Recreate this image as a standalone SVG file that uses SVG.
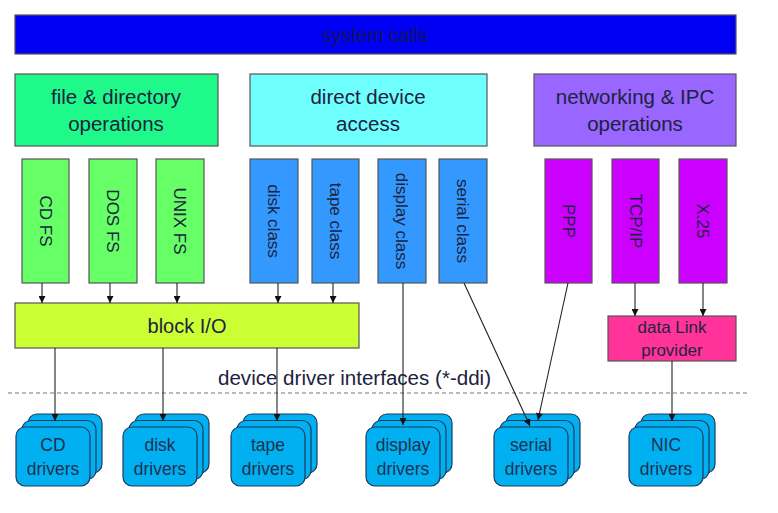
<svg xmlns="http://www.w3.org/2000/svg" xmlns:xlink="http://www.w3.org/1999/xlink" width="778" height="513" viewBox="0 0 778 513">
<style>
text{font-family:"Liberation Sans","DejaVu Sans",sans-serif;fill:#1c2340;}
.big{font-size:20.5px;text-anchor:middle;}
.vt{font-size:17px;text-anchor:middle;}
.drv{font-size:17.5px;text-anchor:middle;fill:#1f3050;}
.box{stroke:#555;stroke-width:1.2;}
.con{stroke:#222;stroke-width:1.1;fill:none;}
.arr{marker-end:url(#ah);}
</style>
<defs>
<marker id="ah" viewBox="0 0 10 10" refX="10" refY="5" markerWidth="7" markerHeight="7" markerUnits="userSpaceOnUse" orient="auto">
<path d="M0,0 L10,5 L0,10 z" fill="#111"/>
</marker>
<g id="stack">
<rect x="12" y="-13" width="74" height="59" rx="9" fill="#00b0f0" stroke="#1f3a5f" stroke-width="1.2"/>
<rect x="6" y="-6.5" width="74" height="59" rx="9" fill="#00b0f0" stroke="#1f3a5f" stroke-width="1.2"/>
<rect x="0" y="0" width="74" height="59" rx="9" fill="#00b0f0" stroke="#1f3a5f" stroke-width="1.2"/>
</g>
</defs>
<rect width="778" height="513" fill="#fff"/>

<g id="system-calls">
<rect class="box" x="15" y="15" width="721" height="39" fill="#0000f5"/>
<text class="big" x="375" y="42" style="font-size:19.5px;fill:#14145a">system calls</text>
</g>

<g id="file-dir-ops">
<rect class="box" x="15" y="74" width="203" height="72" fill="#1ef98a"/>
<text class="big" x="116" y="104">file &amp; directory</text>
<text class="big" x="116" y="131">operations</text>
</g>
<g id="direct-device-access">
<rect class="box" x="250" y="74" width="237" height="72" fill="#6ffffd"/>
<text class="big" x="368" y="104">direct device</text>
<text class="big" x="368" y="131">access</text>
</g>
<g id="networking-ipc">
<rect class="box" x="534" y="74" width="202" height="72" fill="#9966ff"/>
<text class="big" x="635" y="104">networking &amp; IPC</text>
<text class="big" x="635" y="131">operations</text>
</g>

<g id="cd-fs"><rect class="box" x="22" y="159" width="47" height="124" fill="#66ff66"/><text class="vt" transform="translate(45.5,221) rotate(90)" dy="0.35em">CD FS</text></g>
<g id="dos-fs"><rect class="box" x="89" y="159" width="48" height="124" fill="#66ff66"/><text class="vt" transform="translate(113,221) rotate(90)" dy="0.35em">DOS FS</text></g>
<g id="unix-fs"><rect class="box" x="156" y="159" width="48" height="124" fill="#66ff66"/><text class="vt" transform="translate(180,221) rotate(90)" dy="0.35em">UNIX FS</text></g>
<g id="disk-class"><rect class="box" x="250" y="159" width="48" height="124" fill="#3399ff"/><text class="vt" transform="translate(274,221) rotate(90)" dy="0.35em">disk class</text></g>
<g id="tape-class"><rect class="box" x="312" y="159" width="47" height="124" fill="#3399ff"/><text class="vt" transform="translate(335.5,221) rotate(90)" dy="0.35em">tape class</text></g>
<g id="display-class"><rect class="box" x="378" y="159" width="48" height="124" fill="#3399ff"/><text class="vt" transform="translate(402,221) rotate(90)" dy="0.35em">display class</text></g>
<g id="serial-class"><rect class="box" x="439" y="159" width="48" height="124" fill="#3399ff"/><text class="vt" transform="translate(463,221) rotate(90)" dy="0.35em">serial class</text></g>
<g id="ppp"><rect class="box" x="545" y="159" width="47" height="124" fill="#cc00ff"/><text class="vt" transform="translate(568.5,221) rotate(90)" dy="0.35em">PPP</text></g>
<g id="tcp-ip"><rect class="box" x="612" y="159" width="47" height="124" fill="#cc00ff"/><text class="vt" transform="translate(635.5,221) rotate(90)" dy="0.35em">TCP/IP</text></g>
<g id="x25"><rect class="box" x="679" y="159" width="48" height="124" fill="#cc00ff"/><text class="vt" transform="translate(703,221) rotate(90)" dy="0.35em">X.25</text></g>

<g id="block-io">
<rect class="box" x="15" y="303" width="344" height="45" fill="#ccff33" stroke="#333"/>
<text class="big" x="187" y="333" style="font-size:20px">block I/O</text>
</g>
<g id="data-link-provider">
<rect class="box" x="608" y="316" width="128" height="45" fill="#ff3399" stroke="#333"/>
<text class="big" x="672" y="333" style="font-size:17px">data Link</text>
<text class="big" x="672" y="356" style="font-size:17px">provider</text>
</g>

<g id="ddi-boundary">
<line x1="8" y1="393" x2="750" y2="393" stroke="#777" stroke-width="1.2" stroke-dasharray="4,3"/>
<text x="218" y="385" font-size="20" textLength="273" lengthAdjust="spacingAndGlyphs">device driver interfaces (*-ddi)</text>
</g>

<g id="cd-drivers"><use xlink:href="#stack" x="16" y="427"/><text class="drv" x="53" y="451">CD</text><text class="drv" x="53" y="475">drivers</text></g>
<g id="disk-drivers"><use xlink:href="#stack" x="123" y="427"/><text class="drv" x="160" y="451">disk</text><text class="drv" x="160" y="475">drivers</text></g>
<g id="tape-drivers"><use xlink:href="#stack" x="231" y="427"/><text class="drv" x="268" y="451">tape</text><text class="drv" x="268" y="475">drivers</text></g>
<g id="display-drivers"><use xlink:href="#stack" x="366" y="427"/><text class="drv" x="403" y="451">display</text><text class="drv" x="403" y="475">drivers</text></g>
<g id="serial-drivers"><use xlink:href="#stack" x="494" y="427"/><text class="drv" x="531" y="451">serial</text><text class="drv" x="531" y="475">drivers</text></g>
<g id="nic-drivers"><use xlink:href="#stack" x="629" y="427"/><text class="drv" x="666" y="451">NIC</text><text class="drv" x="666" y="475">drivers</text></g>

<g id="connectors">
<line class="con arr" x1="42" y1="283" x2="42" y2="303"/>
<line class="con arr" x1="110" y1="283" x2="110" y2="303"/>
<line class="con arr" x1="177" y1="283" x2="177" y2="303"/>
<line class="con arr" x1="278" y1="283" x2="278" y2="303"/>
<line class="con arr" x1="333" y1="283" x2="333" y2="303"/>
<line class="con arr" x1="635" y1="283" x2="635" y2="316"/>
<line class="con arr" x1="703" y1="283" x2="703" y2="316"/>
<line class="con arr" x1="55" y1="348" x2="55" y2="421"/>
<line class="con arr" x1="163" y1="348" x2="163" y2="421"/>
<line class="con arr" x1="277" y1="348" x2="277" y2="421"/>
<line class="con arr" x1="403" y1="283" x2="403" y2="425"/>
<line class="con arr" x1="464" y1="283" x2="530" y2="426"/>
<line class="con arr" x1="568" y1="283" x2="538" y2="420"/>
<line class="con arr" x1="672" y1="361" x2="672" y2="421"/>
</g>
</svg>
